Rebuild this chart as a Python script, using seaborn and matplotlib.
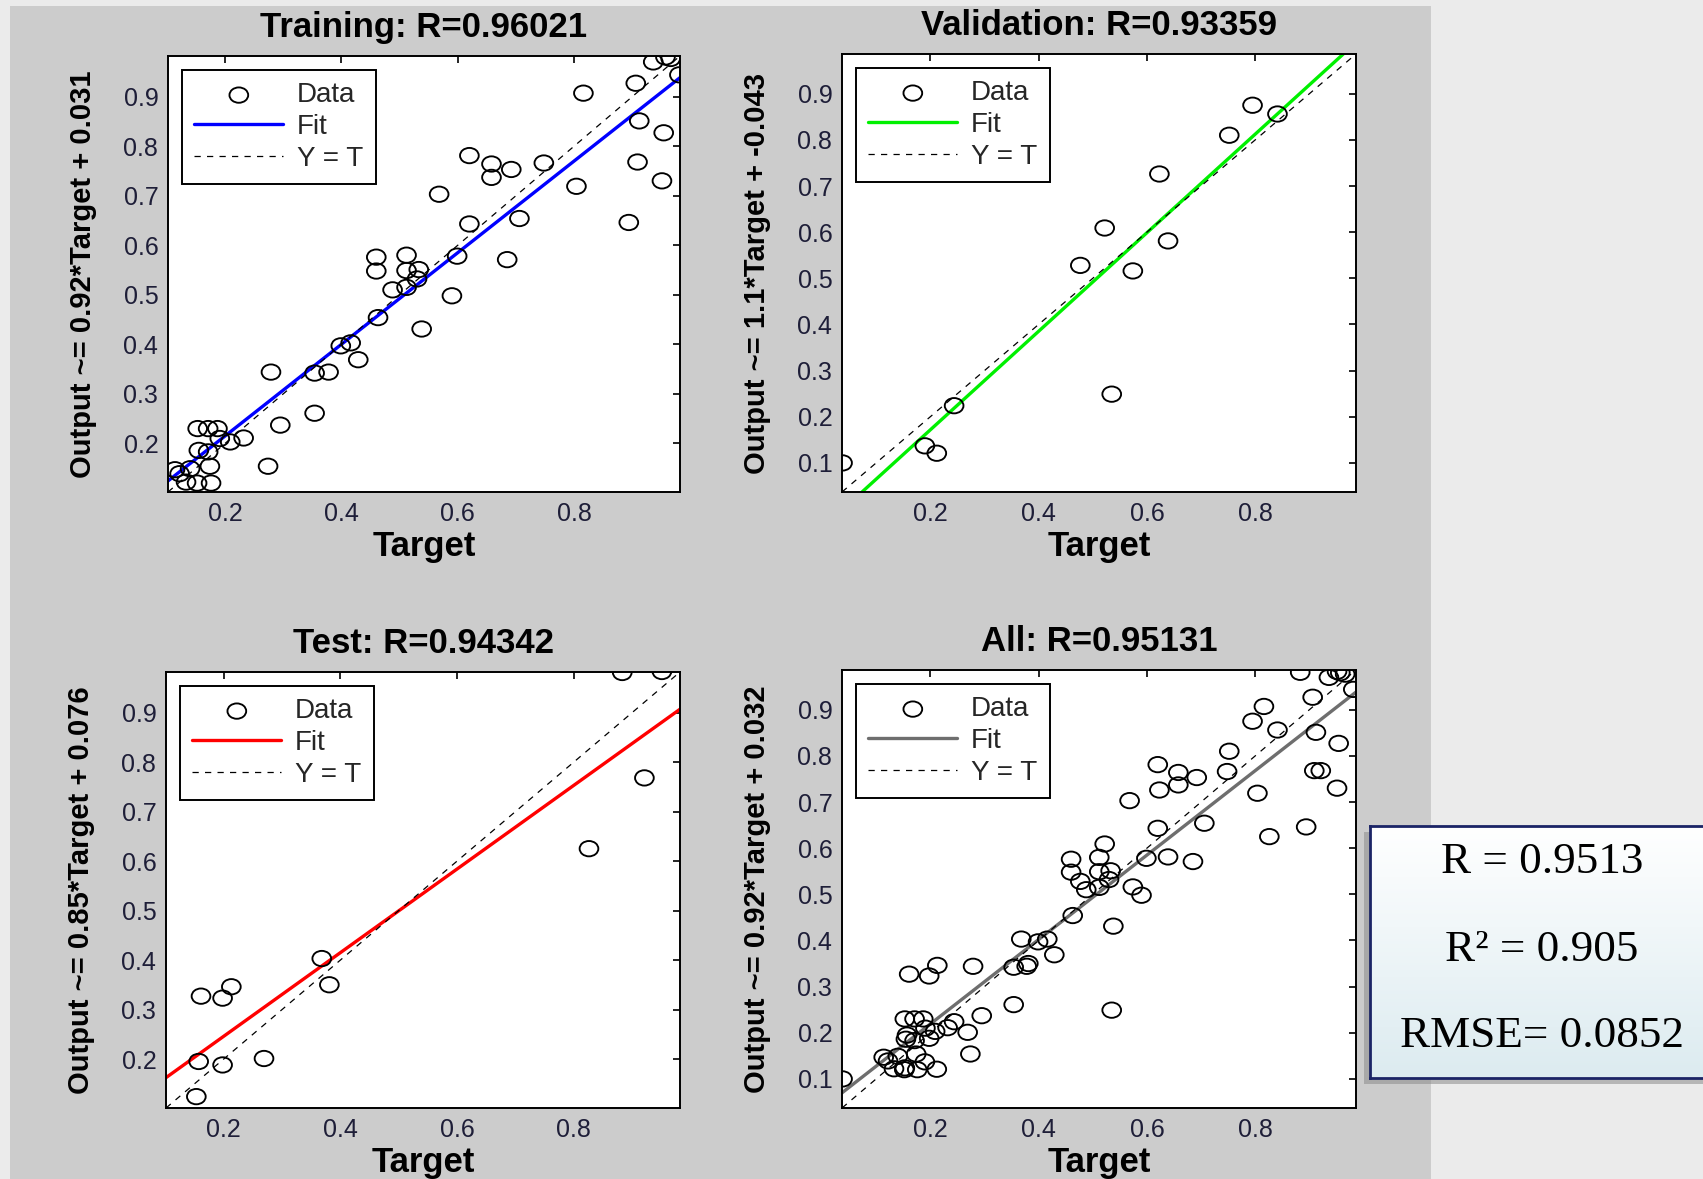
import numpy as np
import matplotlib
matplotlib.use("Agg")
import matplotlib.pyplot as plt
import seaborn as sns
from matplotlib.markers import MarkerStyle
from matplotlib.transforms import Affine2D
from matplotlib.patches import Rectangle
from matplotlib.colors import LinearSegmentedColormap

# ---------------- data ----------------
train_target = [0.936, 0.957, 0.966, 0.981, 0.906, 0.816, 0.912, 0.954, 0.909, 0.951,
                0.804, 0.894, 0.620, 0.658, 0.658, 0.692, 0.748, 0.568, 0.620, 0.706,
                0.685, 0.599, 0.590, 0.460, 0.460, 0.512, 0.512, 0.533, 0.530, 0.488,
                0.512, 0.538, 0.463, 0.399, 0.416, 0.429, 0.279, 0.354, 0.378, 0.354,
                0.295, 0.274, 0.232, 0.209, 0.187, 0.153, 0.171, 0.191, 0.155, 0.171,
                0.174, 0.176, 0.152, 0.133, 0.114, 0.122, 0.140]
train_output = [0.970, 0.980, 0.977, 0.944, 0.927, 0.907, 0.851, 0.827, 0.768, 0.730,
                0.719, 0.646, 0.781, 0.764, 0.737, 0.753, 0.766, 0.703, 0.643, 0.654,
                0.571, 0.578, 0.498, 0.576, 0.548, 0.580, 0.549, 0.551, 0.532, 0.510,
                0.515, 0.431, 0.454, 0.397, 0.403, 0.369, 0.344, 0.342, 0.344, 0.261,
                0.237, 0.154, 0.211, 0.203, 0.230, 0.230, 0.230, 0.210, 0.186, 0.183,
                0.154, 0.120, 0.120, 0.122, 0.147, 0.139, 0.149]

val_target = [0.038, 0.190, 0.212, 0.244, 0.535, 0.477, 0.522, 0.574, 0.639, 0.623,
              0.752, 0.795, 0.841]
val_output = [0.100, 0.137, 0.121, 0.224, 0.249, 0.528, 0.609, 0.516, 0.581, 0.726,
              0.810, 0.875, 0.856]

test_target = [0.883, 0.951, 0.921, 0.826, 0.368, 0.381, 0.213, 0.161, 0.198, 0.157,
               0.198, 0.269, 0.153]
test_output = [0.981, 0.983, 0.768, 0.625, 0.403, 0.350, 0.346, 0.327, 0.323, 0.195,
               0.188, 0.201, 0.124]

all_target = train_target + val_target + test_target
all_output = train_output + val_output + test_output

panel_titles = ["Training: R=0.96021", "Validation: R=0.93359",
                "Test: R=0.94342", "All: R=0.95131"]
# fitted lines as drawn in the picture (labels show rounded coefficients)
fit_slopes = [0.925, 1.068, 0.845, 0.915]
fit_intercepts = [0.030, -0.042, 0.077, 0.036]
ylabels = ["Output ~= 0.92*Target + 0.031", "Output ~= 1.1*Target + -0.043",
           "Output ~= 0.85*Target + 0.076", "Output ~= 0.92*Target + 0.032"]
axis_limits = [(0.102, 0.982), (0.037, 0.986), (0.101, 0.982), (0.037, 0.986)]
x_ticks = [0.2, 0.4, 0.6, 0.8]
y_ticks_list = [[0.2, 0.3, 0.4, 0.5, 0.6, 0.7, 0.8, 0.9],
                [0.1, 0.2, 0.3, 0.4, 0.5, 0.6, 0.7, 0.8, 0.9],
                [0.2, 0.3, 0.4, 0.5, 0.6, 0.7, 0.8, 0.9],
                [0.1, 0.2, 0.3, 0.4, 0.5, 0.6, 0.7, 0.8, 0.9]]
stats_lines = ["R = 0.9513", "R\u00b2 = 0.905", "RMSE= 0.0852"]

# ---------------- styling ----------------
sns.set_theme(style="white")
plt.rcParams['font.family'] = ['Liberation Sans', 'DejaVu Sans']

W, H = 1703, 1179
fig = plt.figure(figsize=(W / 100, H / 100), dpi=100, facecolor='#ebebeb')


def rect(l, t, r, b):
    return [l / W, 1 - b / H, (r - l) / W, (b - t) / H]


# grey MATLAB figure panel
fig.add_artist(Rectangle((10 / W, 0), (1431 - 10) / W, (H - 6) / H,
                         transform=fig.transFigure, facecolor='#cccccc',
                         edgecolor='none', zorder=-2))

positions = [rect(168, 56, 680, 492), rect(842, 54, 1356, 492),
             rect(166, 672, 680, 1108), rect(842, 670, 1356, 1108)]
fit_colors = ['#0000ff', '#00f000', '#ff0000', '#6e6e6e']
targets = [train_target, val_target, test_target, all_target]
outputs = [train_output, val_output, test_output, all_output]

circ = MarkerStyle('o', transform=Affine2D().scale(1.22, 1.0))
tick_color = '#1e1e38'

for i in range(4):
    ax = fig.add_axes(positions[i])
    ax.set_facecolor('white')
    lo, hi = axis_limits[i]
    ax.set_xlim(lo, hi)
    ax.set_ylim(lo, hi)

    sns.scatterplot(x=targets[i], y=outputs[i], ax=ax, marker=circ, s=122,
                    facecolor='none', edgecolor='black', linewidth=1.35,
                    zorder=3, legend=False)
    fit_line = ax.axline((0, fit_intercepts[i]), slope=fit_slopes[i],
                         color=fit_colors[i], lw=2.4, zorder=2)
    ident = ax.axline((0, 0), slope=1, color='black', lw=0.9,
                      ls=(0, (5, 5)), zorder=2)
    data_handle = ax.collections[0]

    ax.set_xticks(x_ticks)
    ax.set_xticklabels([f"{v:g}" for v in x_ticks])
    ax.set_yticks(y_ticks_list[i])
    ax.set_yticklabels([f"{v:g}" for v in y_ticks_list[i]])
    ax.tick_params(direction='in', length=5, width=1.2, top=True, right=True,
                   labelsize=18, pad=7, color='black', labelcolor=tick_color)
    for sp in ax.spines.values():
        sp.set_visible(True)
        sp.set_color('black')
        sp.set_linewidth(1.4)

    ax.set_title(panel_titles[i], fontsize=25, fontweight='bold', pad=14,
                 color='black')
    ax.set_xlabel('Target', fontsize=25, fontweight='bold', labelpad=3,
                  color='black')
    ax.set_ylabel(ylabels[i], fontsize=21, fontweight='bold', labelpad=19,
                  color='black')

    leg = ax.legend([data_handle, fit_line, ident], ['Data', 'Fit', 'Y = T'],
                    loc='upper left', fontsize=20, frameon=True, fancybox=False,
                    shadow=False, borderaxespad=0.5, borderpad=0.45,
                    handlelength=3.2, handletextpad=0.5, labelspacing=0.2,
                    scatterpoints=1)
    fr = leg.get_frame()
    fr.set_edgecolor('black')
    fr.set_linewidth(1.4)
    fr.set_facecolor('white')
    fr.set_alpha(1)

# ---------------- stats box ----------------
shadow = Rectangle((1364 / W, 1 - 1084 / H), (1710 - 1364) / W, (1084 - 832) / H,
                   transform=fig.transFigure, facecolor='#8c8c8c',
                   edgecolor='none', alpha=0.55, zorder=4)
fig.add_artist(shadow)
bx = fig.add_axes(rect(1370, 826, 1708, 1078), zorder=5)
grad = np.linspace(0, 1, 256).reshape(-1, 1)
cmap = LinearSegmentedColormap.from_list('g', ['#ffffff', '#dcebf0'])
bx.imshow(grad, aspect='auto', cmap=cmap, extent=[0, 1, 1, 0])
bx.set_xticks([])
bx.set_yticks([])
for sp in bx.spines.values():
    sp.set_color('#1b2466')
    sp.set_linewidth(2)
    sp.set_visible(True)

for txt, yb in zip(stats_lines, [873, 961, 1047]):
    fig.text(1542 / W, 1 - yb / H, txt, ha='center', va='baseline',
             fontsize=32.5, family=['Liberation Serif', 'DejaVu Serif'],
             color='black', zorder=6)

fig.savefig('out.png', dpi=100, facecolor=fig.get_facecolor())
